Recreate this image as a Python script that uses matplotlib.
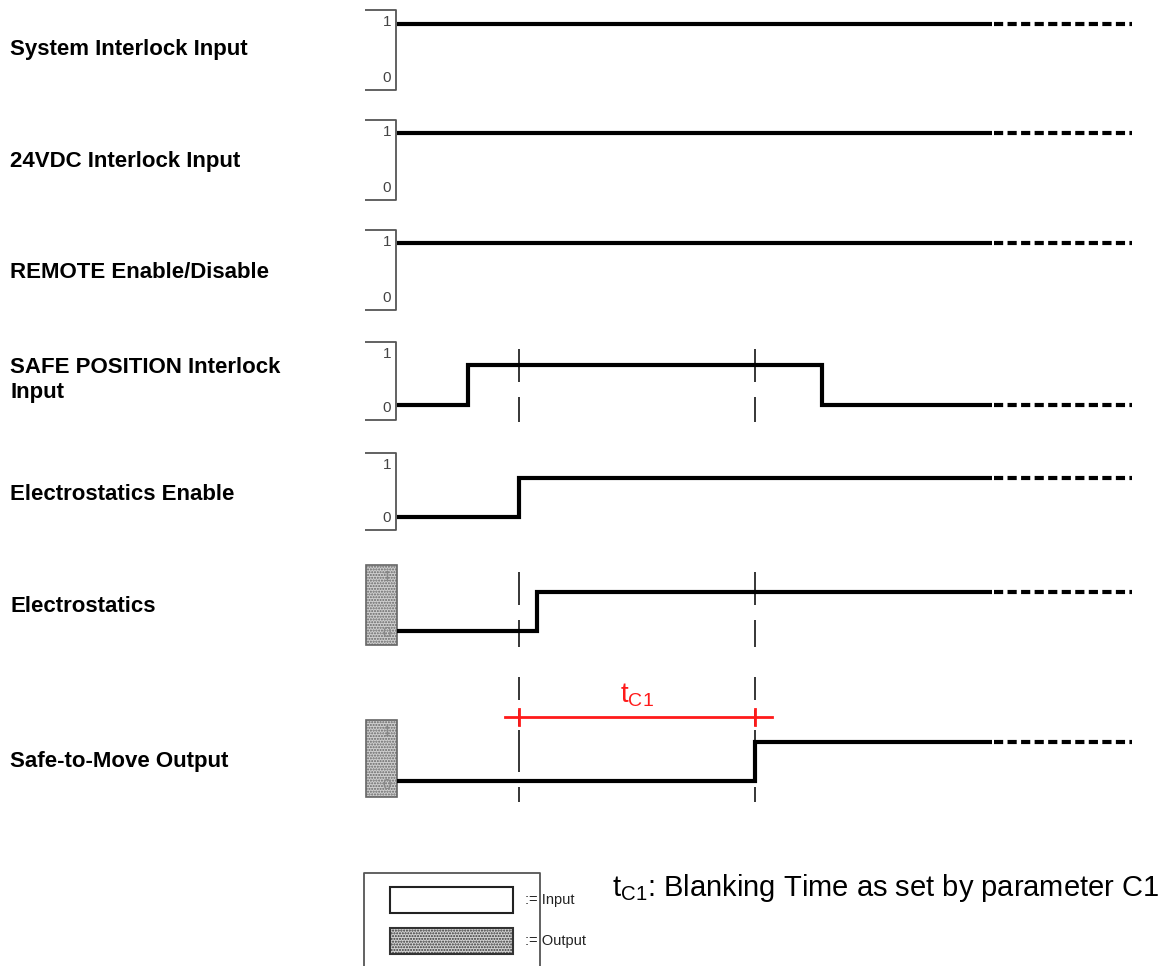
import matplotlib
matplotlib.use('Agg')
import matplotlib.pyplot as plt
from matplotlib.patches import Rectangle

# signal names as shown on the left
signals = [
    'System Interlock Input',
    '24VDC Interlock Input',
    'REMOTE Enable/Disable',
    'SAFE POSITION Interlock\nInput',
    'Electrostatics Enable',
    'Electrostatics',
    'Safe-to-Move Output',
]
# step times (switch points) and the levels between them
switch_times = [
    [],
    [],
    [],
    [468, 822],
    [519],
    [537],
    [755],
]
levels = [
    [1],
    [1],
    [1],
    [0, 1, 0],
    [0, 1],
    [0, 1],
    [0, 1],
]
is_output = [False, False, False, False, False, True, True]

# timing markers and blanking time
marker_times = [519, 755]
tc1_label = 't$_{\\mathregular{C1}}$'
note_text = ': Blanking Time as set by parameter C1'

# layout (pixel coordinates)
row_top = [10, 120, 230, 342, 453, 565, 720]
row_bot = [90, 200, 310, 420, 530, 645, 797]
row_hi = [24, 133, 243, 365, 478, 592, 742]
row_lo = [78, 188, 298, 405, 517, 631, 781]
label_y = [50, 162, 272, 380, 495, 607, 762]
t_start, t_solid, t_end = 397, 992, 1132

fig = plt.figure(figsize=(11.76, 9.66), dpi=100)
ax = fig.add_axes([0, 0, 1, 1])
ax.set_xlim(0, 1176)
ax.set_ylim(966, 0)
ax.axis('off')

font = 'Liberation Sans'
gray = '#555555'

for i, name in enumerate(signals):
    top, bot, hi, lo = row_top[i], row_bot[i], row_hi[i], row_lo[i]
    ax.text(10, label_y[i], name, fontsize=16, fontweight='bold', family=font,
            va='center', ha='left', linespacing=1.3)

    if is_output[i]:
        ax.add_patch(Rectangle((366, top), 31, bot - top, facecolor='#cfcfcf',
                               edgecolor='#666666', hatch='......', lw=1.2))
        numcol = '#888888'
    else:
        ax.plot([365, 396, 396, 365], [top, top, bot, bot], color=gray, lw=1.3,
                solid_capstyle='butt')
        numcol = '#444444'
    ax.text(391, top + 12, '1', fontsize=11, family=font, color=numcol, ha='right', va='center')
    ax.text(391, bot - 12, '0', fontsize=11, family=font, color=numcol, ha='right', va='center')

    # build step waveform
    ymap = {0: lo, 1: hi}
    xs = [t_start]
    ys = [ymap[levels[i][0]]]
    for t, lv in zip(switch_times[i], levels[i][1:]):
        xs += [t, t]
        ys += [ys[-1], ymap[lv]]
    xs.append(t_solid)
    ys.append(ys[-1])
    ax.plot(xs, ys, color='black', lw=3, solid_joinstyle='miter', solid_capstyle='butt')
    ax.plot([t_solid + 2, t_end], [ys[-1], ys[-1]], color='black', lw=3,
            dashes=(2.2, 1.05), dash_capstyle='butt')

# dashed timing markers
dash_kw = dict(color='black', lw=1.1, solid_capstyle='butt')
for t in marker_times:
    for r in [3, 5]:
        ax.plot([t, t], [row_top[r] + 7, row_top[r] + 40], **dash_kw)
        ax.plot([t, t], [row_top[r] + 55, row_bot[r] + 2], **dash_kw)
    ax.plot([t, t], [677, 700], **dash_kw)
    ax.plot([t, t], [710, 726], **dash_kw)
    ax.plot([t, t], [730, 772], **dash_kw)
    ax.plot([t, t], [787, 802], **dash_kw)

# blanking time dimension
red = '#ff1a1a'
tc_y = 717
ax.plot([marker_times[0] - 14, marker_times[1] + 17], [tc_y, tc_y], color=red, lw=2)
for t in marker_times:
    ax.plot([t, t], [tc_y - 8, tc_y + 8], color=red, lw=2)
ax.text(sum(marker_times) / 2, tc_y - 8, tc1_label, color=red, fontsize=20,
        family=font, ha='center', va='bottom')

# legend box
ax.plot([364, 364, 540, 540], [970, 873, 873, 970], color=gray, lw=1.3)
ax.add_patch(Rectangle((390, 887), 123, 26, facecolor='white', edgecolor='#222222', lw=1.5))
ax.add_patch(Rectangle((390, 928), 123, 26, facecolor='#d3d3d3', edgecolor='#333333',
                       hatch='......', lw=1.5))
ax.text(525, 900, ':= Input', fontsize=10.5, family=font, va='center', color='#222222')
ax.text(525, 941, ':= Output', fontsize=10.5, family=font, va='center', color='#222222')

# note text
ax.text(612, 888, tc1_label + note_text, fontsize=21, family=font,
        va='center', ha='left')

fig.savefig('out.png', dpi=100)
